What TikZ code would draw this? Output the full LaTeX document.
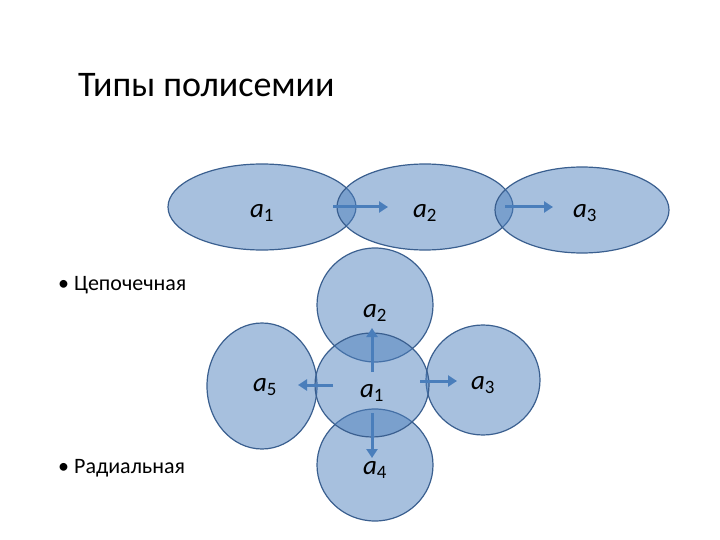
\documentclass[tikz,border=0pt]{standalone}
\usepackage{fontspec}
\setmainfont{Carlito}
\usetikzlibrary{arrows.meta}
\definecolor{fillc}{HTML}{4F81BD}
\definecolor{edgec}{HTML}{3A5F8F}
\definecolor{arrc}{HTML}{4A7EBB}
\begin{document}
\begin{tikzpicture}[x=1pt,y=-1pt,
  blob/.style={draw=edgec,line width=1.2pt,fill=fillc,fill opacity=0.5,draw opacity=1},
  lab/.style={font=\fontsize{27}{30}\selectfont\itshape, inner sep=0pt},
  arr/.style={draw=arrc,line width=3pt,-{Triangle[length=9pt,width=11pt]}},
  txt/.style={font=\fontsize{22}{26}\selectfont, anchor=west, inner sep=0pt}]
\useasboundingbox (0,0) rectangle (720,540);
\node[anchor=west,font=\fontsize{36}{40}\selectfont,inner sep=0pt] (title) at (78,85) {Типы полисемии};
% chain
\draw[blob] (262,207) ellipse [x radius=94, y radius=43];
\draw[blob] (425,207) ellipse [x radius=88, y radius=43];
\draw[blob] (582,210) ellipse [x radius=87, y radius=43];
\node[lab] (c1) at (262,213) {a\textsubscript{\upshape 1}};
\node[lab] (c2) at (425,213) {a\textsubscript{\upshape 2}};
\node[lab] (c3) at (585,213) {a\textsubscript{\upshape 3}};
\coordinate (s1) at (333,207); \coordinate (e1) at (388,207);
\coordinate (s2) at (505,207); \coordinate (e2) at (553,207);
\draw[arr] (s1) -- (e1);
\draw[arr] (s2) -- (e2);
\node[txt] (t1) at (58,285) {• Цепочечная};
\node[txt] (t2) at (58,468) {• Радиальная};
% radial
\draw[blob] (375,305) ellipse [x radius=58, y radius=57];
\draw[blob] (262,386) ellipse [x radius=55, y radius=63];
\draw[blob] (483,380) ellipse [x radius=57, y radius=55];
\draw[blob] (375,465) ellipse [x radius=58, y radius=56];
\draw[blob] (372,385) ellipse [x radius=57, y radius=52];
\node[lab] (r2) at (375,313) {a\textsubscript{\upshape 2}};
\node[lab] (r5) at (265,387) {a\textsubscript{\upshape 5}};
\node[lab] (r1) at (372,393) {a\textsubscript{\upshape 1}};
\node[lab] (r3) at (483,385) {a\textsubscript{\upshape 3}};
\node[lab] (r4) at (375,470) {a\textsubscript{\upshape 4}};
\coordinate (o) at (372,385);
\draw[arr] (372,372) -- (372,328);
\draw[arr] (333,385) -- (298,385);
\draw[arr] (420,381) -- (457,381);
\draw[arr] (372,413) -- (372,458);
\end{tikzpicture}
\end{document}
